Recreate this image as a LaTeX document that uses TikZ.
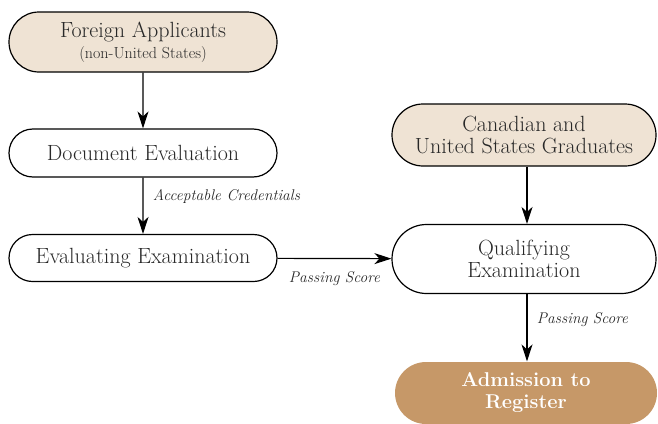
\documentclass[tikz,border=0pt]{standalone}
\usepackage{fontspec}
\usepackage{tikz}
\usetikzlibrary{shapes.misc, arrows.meta}

\definecolor{sand}{RGB}{239,227,212}
\definecolor{tan}{RGB}{198,152,104}
\definecolor{ink}{RGB}{40,40,40}

\begin{document}
\begin{tikzpicture}[x=1pt, y=-1pt, >={Stealth[length=17pt,width=11pt,inset=5pt]},
    box/.style={rounded rectangle, draw, line width=1.2pt, minimum width=272pt,
        align=center, font=\fontsize{22}{22.5}\selectfont, text=ink, inner sep=2pt},
    label/.style={font=\fontsize{15.5}{18}\selectfont\itshape, text=ink}]
            \useasboundingbox (0,0) rectangle (658,423);

            % Left column
            \node[box, fill=sand, minimum height=60pt] (foreign) at (143,42)
                {Foreign Applicants\\[-2pt]{\fontsize{16}{18}\selectfont (non-United States)}};
            \node[box, minimum height=48pt] (doceval) at (143,153) {Document Evaluation};
            \node[box, minimum height=47pt] (evalexam) at (143,258) {Evaluating Examination};

            % Right column
            \node[box, fill=sand, minimum width=268pt, minimum height=62pt] (canadian) at (524,135)
                {Canadian and\\United States Graduates};
            \node[box, minimum width=268pt, minimum height=69pt] (qualify) at (524,259)
                {Qualifying\\Examination};
            \node[box, draw=none, fill=tan, text=white, font=\fontsize{20}{22}\selectfont\bfseries,
                minimum width=266pt, minimum height=62pt] (admission) at (526,393)
                {Admission to\\Register};

            % Arrows
            \draw[->, line width=1.2pt] (foreign) -- (doceval);
            \draw[->, line width=1.2pt] (doceval) -- (evalexam)
                node[label, midway, right, xshift=6pt, yshift=9pt] {Acceptable Credentials};
            \draw[->, line width=1.2pt] (evalexam) -- (qualify)
                node[label, midway, below, yshift=-9pt] {Passing Score};
            \draw[->, line width=1.2pt] (canadian.south -| 527,0) -- (qualify.north -| 527,0);
            \draw[->, line width=1.2pt] (qualify.south -| 527,0) -- (admission.north -| 527,0)
                node[label, pos=0.38, right, xshift=6pt] {Passing Score};
\end{tikzpicture}
\end{document}
